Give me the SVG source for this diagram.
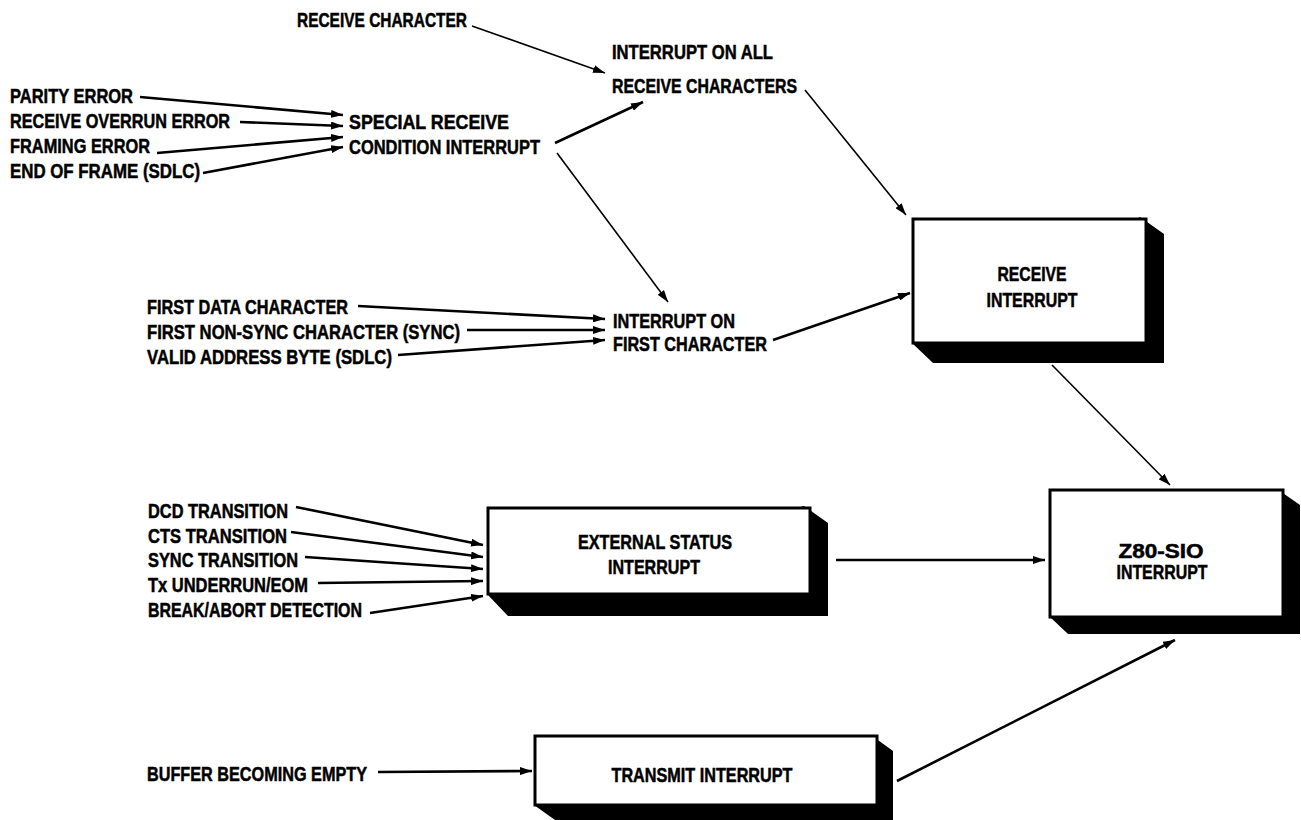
<svg xmlns="http://www.w3.org/2000/svg" width="1301" height="820" viewBox="0 0 1301 820">
<style>
text{font-family:"Liberation Sans Narrow","Liberation Sans",Arial,sans-serif;font-weight:bold;font-size:20px;fill:#000;stroke:#000;stroke-width:0.5}
.c{text-anchor:middle}
.thick{stroke:#000;stroke-width:2.6;fill:none}
.thin{stroke:#000;stroke-width:1.6;fill:none}
.front{fill:#fff;stroke:#000;stroke-width:3}
.side{fill:#000}
</style>
<defs>
<marker id="ah" markerUnits="userSpaceOnUse" markerWidth="13" markerHeight="8" refX="12" refY="4" orient="auto">
<path d="M0,0 L12,4 L0,8 z" fill="#000"/>
</marker>
</defs>
<rect width="1301" height="820" fill="#fff"/>

<g id="connectors">
<path class="thin" d="M472,26 L605,73" marker-end="url(#ah)"/>
<path class="thick" d="M140,97 L343,115" marker-end="url(#ah)"/>
<path class="thick" d="M240,122 L343,126" marker-end="url(#ah)"/>
<path class="thick" d="M157,153 L343,137" marker-end="url(#ah)"/>
<path class="thick" d="M203,173 L343,147" marker-end="url(#ah)"/>
<path class="thick" d="M555,143 L643,102" marker-end="url(#ah)"/>
<path class="thin" d="M557,153 L668,302" marker-end="url(#ah)"/>
<path class="thin" d="M805,90 L906,215" marker-end="url(#ah)"/>
<path class="thick" d="M358,306 L605,319" marker-end="url(#ah)"/>
<path class="thick" d="M467,330 L605,330" marker-end="url(#ah)"/>
<path class="thick" d="M398,355 L605,340" marker-end="url(#ah)"/>
<path class="thick" d="M773,340 L910,293" marker-end="url(#ah)"/>
<path class="thin" d="M1052,365 L1170,485" marker-end="url(#ah)"/>
<path class="thick" d="M296,507 L483,545" marker-end="url(#ah)"/>
<path class="thick" d="M291,532 L483,557" marker-end="url(#ah)"/>
<path class="thick" d="M305,557 L483,569" marker-end="url(#ah)"/>
<path class="thick" d="M318,583 L483,581" marker-end="url(#ah)"/>
<path class="thick" d="M370,613 L483,596" marker-end="url(#ah)"/>
<path class="thick" d="M836,560 L1045,560" marker-end="url(#ah)"/>
<path class="thick" d="M378,772 L532,771" marker-end="url(#ah)"/>
<path class="thick" d="M897,781 L1175,640" marker-end="url(#ah)"/>
</g>

<g id="labels">
<text x="297" y="27" textLength="170" lengthAdjust="spacingAndGlyphs">RECEIVE CHARACTER</text>
<text x="10" y="103" textLength="123" lengthAdjust="spacingAndGlyphs">PARITY ERROR</text>
<text x="10" y="128" textLength="220" lengthAdjust="spacingAndGlyphs">RECEIVE OVERRUN ERROR</text>
<text x="10" y="153" textLength="140" lengthAdjust="spacingAndGlyphs">FRAMING ERROR</text>
<text x="10" y="178" textLength="190" lengthAdjust="spacingAndGlyphs">END OF FRAME (SDLC)</text>
<text x="349" y="129" textLength="160" lengthAdjust="spacingAndGlyphs">SPECIAL RECEIVE</text>
<text x="349" y="154" textLength="191" lengthAdjust="spacingAndGlyphs">CONDITION INTERRUPT</text>
<text x="612" y="59" textLength="161" lengthAdjust="spacingAndGlyphs">INTERRUPT ON ALL</text>
<text x="612" y="93" textLength="185" lengthAdjust="spacingAndGlyphs">RECEIVE CHARACTERS</text>
<text x="147" y="314" textLength="201" lengthAdjust="spacingAndGlyphs">FIRST DATA CHARACTER</text>
<text x="147" y="339" textLength="313" lengthAdjust="spacingAndGlyphs">FIRST NON-SYNC CHARACTER (SYNC)</text>
<text x="147" y="364" textLength="245" lengthAdjust="spacingAndGlyphs">VALID ADDRESS BYTE (SDLC)</text>
<text x="613" y="328" textLength="122" lengthAdjust="spacingAndGlyphs">INTERRUPT ON</text>
<text x="613" y="351" textLength="154" lengthAdjust="spacingAndGlyphs">FIRST CHARACTER</text>
<text x="148" y="518" textLength="140" lengthAdjust="spacingAndGlyphs">DCD TRANSITION</text>
<text x="148" y="543" textLength="139" lengthAdjust="spacingAndGlyphs">CTS TRANSITION</text>
<text x="148" y="567" textLength="150" lengthAdjust="spacingAndGlyphs">SYNC TRANSITION</text>
<text x="148" y="592" textLength="160" lengthAdjust="spacingAndGlyphs">Tx UNDERRUN/EOM</text>
<text x="148" y="617" textLength="214" lengthAdjust="spacingAndGlyphs">BREAK/ABORT DETECTION</text>
<text x="147" y="781" textLength="220" lengthAdjust="spacingAndGlyphs">BUFFER BECOMING EMPTY</text>
</g>

<g id="receive-interrupt">
<polygon class="side" points="1140,217 1164,234 1164,363 933,363 912,343"/>
<rect class="front" x="913" y="219" width="233" height="124"/>
<text class="c" x="1032" y="281" textLength="69" lengthAdjust="spacingAndGlyphs">RECEIVE</text>
<text class="c" x="1032" y="307" textLength="91" lengthAdjust="spacingAndGlyphs">INTERRUPT</text>
</g>

<g id="external-status-interrupt">
<polygon class="side" points="804,506 828,523 828,616 508,616 487,594"/>
<rect class="front" x="488" y="508" width="322" height="86"/>
<text class="c" x="655" y="549" textLength="154" lengthAdjust="spacingAndGlyphs">EXTERNAL STATUS</text>
<text class="c" x="654" y="574" textLength="92" lengthAdjust="spacingAndGlyphs">INTERRUPT</text>
</g>

<g id="z80-sio-interrupt">
<polygon class="side" points="1277,489 1300,505 1300,634 1068,634 1050,617"/>
<rect class="front" x="1050" y="490" width="233" height="127"/>
<text class="c" x="1161" y="558" textLength="85" lengthAdjust="spacingAndGlyphs">Z80-SIO</text>
<text class="c" x="1162" y="579" textLength="91" lengthAdjust="spacingAndGlyphs">INTERRUPT</text>
</g>

<g id="transmit-interrupt">
<polygon class="side" points="871,735 893,751 893,820 555,820 534,805"/>
<rect class="front" x="535" y="736" width="342" height="69"/>
<text class="c" x="702" y="782" textLength="181" lengthAdjust="spacingAndGlyphs">TRANSMIT INTERRUPT</text>
</g>
</svg>
